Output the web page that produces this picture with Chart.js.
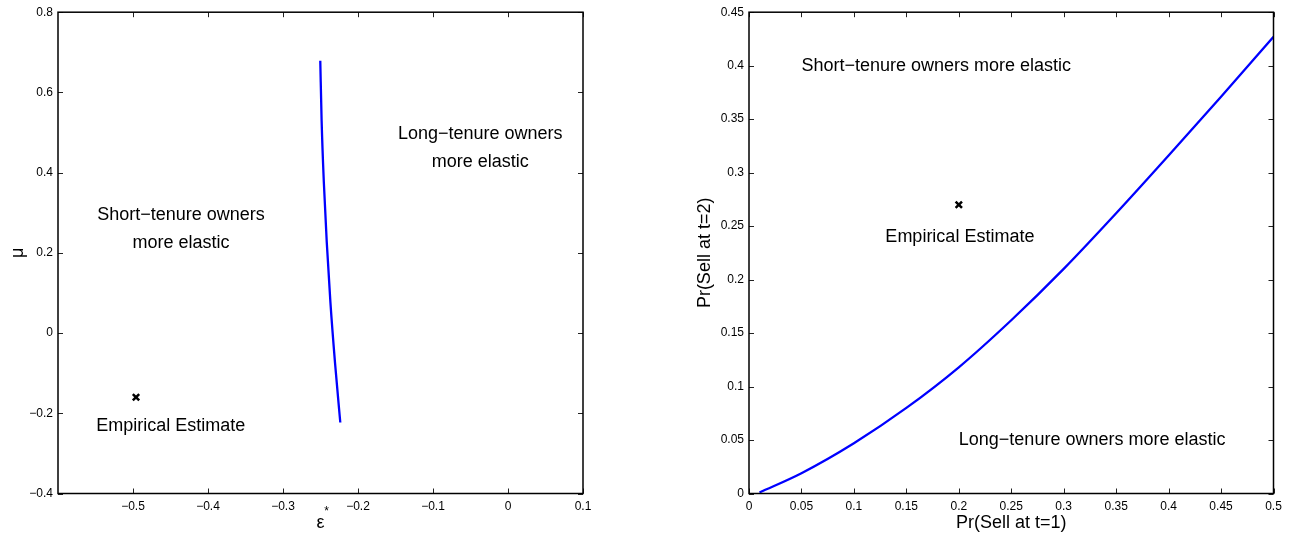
<!DOCTYPE html>
<html>
<head>
<meta charset="utf-8">
<script src="https://cdn.jsdelivr.net/npm/chart.js@4.4.1/dist/chart.umd.min.js"></script>
<style>
    html, body { margin: 0; padding: 0; background: #fff; overflow: hidden; }
    .panel { position: absolute; top: 0; height: 539px; }
    #left-panel { left: 0; width: 600px; }
    #right-panel { left: 680px; width: 618px; }
</style>
</head>
<body>
<div class="panel" id="left-panel"><canvas id="left-chart" width="600" height="539"></canvas></div>
<div class="panel" id="right-panel"><canvas id="right-chart" width="618" height="539"></canvas></div>
<script>
// Left panel: indifference curve in (eps*, mu) space
const epsStar = [-0.2503, -0.2485, -0.2456, -0.2417, -0.2368, -0.2307, -0.2236];
const muVals = [0.679, 0.529, 0.378, 0.228, 0.077, -0.073, -0.223];
const leftEstimate = [{ x: -0.496, y: -0.16 }];
const leftXTicks = [-0.5, -0.4, -0.3, -0.2, -0.1, 0, 0.1];
const leftYTicks = [-0.4, -0.2, 0, 0.2, 0.4, 0.6, 0.8];

// Right panel: Pr(Sell at t=2) against Pr(Sell at t=1)
const prSell1 = [0.01, 0.05, 0.1, 0.15, 0.2, 0.25, 0.3, 0.35, 0.4, 0.45, 0.5];
const prSell2 = [0.001, 0.019, 0.047, 0.080, 0.118, 0.162, 0.210, 0.262, 0.316, 0.371, 0.427];
const rightEstimate = [{ x: 0.2, y: 0.27 }];
const rightXTicks = [0, 0.05, 0.1, 0.15, 0.2, 0.25, 0.3, 0.35, 0.4, 0.45, 0.5];
const rightYTicks = [0, 0.05, 0.1, 0.15, 0.2, 0.25, 0.3, 0.35, 0.4, 0.45];

// text annotations, anchored in data coordinates
const leftNotes = [
    { lines: ['Short\u2212tenure owners', 'more elastic'], x: -0.436, y: 0.259, align: 'center' },
    { lines: ['Long\u2212tenure owners', 'more elastic'], x: -0.037, y: 0.461, align: 'center' },
    { lines: ['Empirical Estimate'], x: -0.549, y: -0.231, align: 'left' }
];
const rightNotes = [
    { lines: ['Short\u2212tenure owners more elastic'], x: 0.05, y: 0.4, align: 'left' },
    { lines: ['Empirical Estimate'], x: 0.13, y: 0.24, align: 'left' },
    { lines: ['Long\u2212tenure owners more elastic'], x: 0.2, y: 0.05, align: 'left' }
];

const FONT = "'Liberation Sans', Arial, Helvetica, sans-serif";
Chart.defaults.font.family = FONT;
Chart.defaults.color = '#000';

const fmt = v => String(+Number(v).toFixed(2)).replace('-', '\u2212');

// matlab style box: inward ticks on all four sides, frame, notes
const matlabBox = {
    id: 'matlabBox',
    afterDraw(chart, args, opts) {
        const { ctx, chartArea: a } = chart;
        const xs = chart.scales.x, ys = chart.scales.y;
        ctx.save();
        ctx.strokeStyle = '#222';
        ctx.lineWidth = 1;
        ctx.beginPath();
        xs.ticks.forEach(t => {
            const px = Math.round(xs.getPixelForValue(t.value)) + 0.5;
            ctx.moveTo(px, a.bottom); ctx.lineTo(px, a.bottom - 5);
            ctx.moveTo(px, a.top); ctx.lineTo(px, a.top + 5);
        });
        ys.ticks.forEach(t => {
            const py = Math.round(ys.getPixelForValue(t.value)) + 0.5;
            ctx.moveTo(a.left, py); ctx.lineTo(a.left + 5, py);
            ctx.moveTo(a.right, py); ctx.lineTo(a.right - 5, py);
        });
        ctx.stroke();
        ctx.strokeStyle = '#000';
        ctx.lineWidth = 1.5;
        ctx.strokeRect(a.left, a.top, a.right - a.left, a.bottom - a.top);

        ctx.fillStyle = '#000';
        ctx.font = '18px ' + FONT;
        ctx.textBaseline = 'middle';
        (opts.notes || []).forEach(n => {
            const px = xs.getPixelForValue(n.x);
            const py = ys.getPixelForValue(n.y);
            ctx.textAlign = n.align;
            const top = py - (n.lines.length - 1) * 14;
            n.lines.forEach((line, i) => ctx.fillText(line, px, top + i * 28));
        });

        if (opts.star) {
            // superscript star on the x axis label
            ctx.font = '12px ' + FONT;
            ctx.textAlign = 'center';
            ctx.fillText('*', (a.left + a.right) / 2 + 6, 512);
        }
        ctx.restore();
    }
};

function makeChart(canvasId, cfg) {
    return new Chart(document.getElementById(canvasId), {
        type: 'scatter',
        data: {
            datasets: [
                {
                    data: cfg.lineX.map((v, i) => ({ x: v, y: cfg.lineY[i] })),
                    showLine: true,
                    borderColor: '#0000ff',
                    borderWidth: 2.3,
                    pointRadius: 0,
                    cubicInterpolationMode: 'monotone'
                },
                {
                    data: cfg.estimate,
                    pointStyle: 'crossRot',
                    pointRadius: 4.5,
                    borderColor: '#000',
                    backgroundColor: '#000',
                    borderWidth: 2.5
                }
            ]
        },
        options: {
            responsive: false,
            animation: false,
            layout: { padding: { top: 6.5, right: cfg.padRight, bottom: 0, left: 0 } },
            plugins: {
                legend: { display: false },
                tooltip: { enabled: false },
                matlabBox: { notes: cfg.notes, star: cfg.star }
            },
            scales: {
                x: {
                    type: 'linear',
                    min: cfg.xMin, max: cfg.xMax,
                    afterBuildTicks: s => { s.ticks = cfg.xTicks.map(v => ({ value: v })); },
                    afterFit: s => { s.height = 45.5; },
                    grid: { display: false, drawTicks: false },
                    border: { display: false },
                    ticks: { font: { size: 12 }, color: '#000', padding: 6, maxRotation: 0, autoSkip: false, callback: v => fmt(v) },
                    title: { display: true, text: cfg.xTitle, font: { size: 18 }, color: '#000', padding: { top: 0, bottom: 5 } }
                },
                y: {
                    type: 'linear',
                    min: cfg.yMin, max: cfg.yMax,
                    afterBuildTicks: s => { s.ticks = cfg.yTicks.map(v => ({ value: v })); },
                    afterFit: s => { s.width = cfg.yWidth; },
                    grid: { display: false, drawTicks: false },
                    border: { display: false },
                    ticks: { font: { size: 12 }, color: '#000', padding: 5, autoSkip: false, callback: v => fmt(v) },
                    title: { display: true, text: cfg.yTitle, font: { size: 18 }, color: '#000', padding: { top: cfg.yTitlePad, bottom: 0 } }
                }
            }
        },
        plugins: [matlabBox]
    });
}

makeChart('left-chart', {
    lineX: epsStar, lineY: muVals, estimate: leftEstimate,
    xMin: -0.6, xMax: 0.1, yMin: -0.4, yMax: 0.8,
    xTicks: leftXTicks, yTicks: leftYTicks,
    xTitle: '\u03b5', yTitle: '\u03bc',
    yWidth: 58, yTitlePad: 7, padRight: 17,
    notes: leftNotes, star: true
});

makeChart('right-chart', {
    lineX: prSell1, lineY: prSell2, estimate: rightEstimate,
    xMin: 0, xMax: 0.5, yMin: 0, yMax: 0.45,
    xTicks: rightXTicks, yTicks: rightYTicks,
    xTitle: 'Pr(Sell at t=1)', yTitle: 'Pr(Sell at t=2)',
    yWidth: 69, yTitlePad: 14, padRight: 24.5,
    notes: rightNotes, star: false
});
</script>
</body>
</html>
